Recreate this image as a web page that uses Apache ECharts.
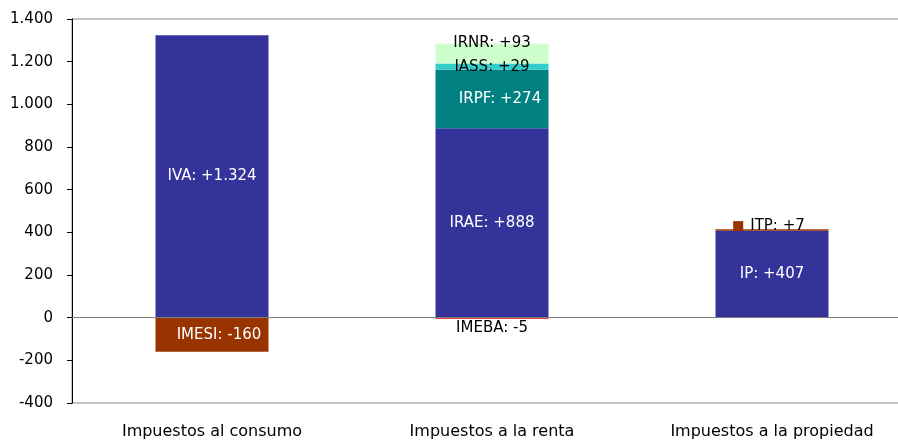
<!DOCTYPE html>
<html>
<head>
<meta charset="utf-8">
<script src="https://cdn.jsdelivr.net/npm/echarts@6/dist/echarts.min.js"></script>
<style>
html,body{margin:0;padding:0;background:#fff;overflow:hidden;}
#c{width:898px;height:443px;}
</style>
</head>
<body>
<div id="c"></div>
<script>
const categories = ['Impuestos al consumo', 'Impuestos a la renta', 'Impuestos a la propiedad'];
const yTicks = { min: -400, max: 1400, interval: 200 };

// Blue base components
const mainNames = ['IVA', 'IRAE', 'IP'];
const mainValues = [1324, 888, 407];
// Brown components
const brownNames = ['IMESI', null, 'ITP'];
const brownValues = [-160, null, 7];
// Red component
const imebaNames = [null, 'IMEBA', null];
const imebaValues = [null, -5, null];
// Teal
const irpfNames = [null, 'IRPF', null];
const irpfValues = [null, 274, null];
// Cyan
const iassNames = [null, 'IASS', null];
const iassValues = [null, 29, null];
// Light green
const irnrNames = [null, 'IRNR', null];
const irnrValues = [null, 93, null];

const FONT = 'DejaVu Sans';

function fmtNum(v) {
  const a = Math.abs(v);
  const s = String(a).replace(/\B(?=(\d{3})+(?!\d))/g, '.');
  return (v < 0 ? '-' : '+') + s;
}
function labelText(names, idx, v) {
  return names[idx] + ': ' + fmtNum(v);
}

function buildData(names, values, labelFor) {
  return values.map((v, i) => {
    if (v === null) return '-';
    return { value: v, label: Object.assign({ formatter: labelText(names, i, v) }, labelFor ? labelFor(i) : {}) };
  });
}

const baseLabel = { show: true, position: 'inside', fontFamily: FONT, fontSize: 15, color: '#fff' };

const chart = echarts.init(document.getElementById('c'));
chart.setOption({
  animation: false,
  backgroundColor: '#fff',
  grid: { left: 72, top: 19, bottom: 40, right: -14, outerBoundsMode: 'none', containLabel: false,
          show: true, borderColor: '#8c8c8c', borderWidth: 1, backgroundColor: 'transparent' },
  xAxis: {
    type: 'category',
    data: categories,
    axisLine: { show: false, onZero: false },
    axisTick: { show: false },
    axisLabel: { margin: 21, fontFamily: FONT, fontSize: 16, color: '#000' }
  },
  yAxis: {
    type: 'value',
    min: yTicks.min, max: yTicks.max, interval: yTicks.interval,
    axisLine: { show: true, lineStyle: { color: '#000', width: 1 } },
    axisTick: { show: true, length: 5, lineStyle: { color: '#000' } },
    splitLine: { show: false },
    axisLabel: {
      margin: 19, fontFamily: FONT, fontSize: 15, color: '#000',
      formatter: v => String(v).replace(/\B(?=(\d{3})+(?!\d))/g, '.')
    }
  },
  series: [
    {
      name: 'base', type: 'bar', stack: 'total', barWidth: 113,
      itemStyle: { color: '#333399' },
      label: baseLabel,
      data: buildData(mainNames, mainValues),
      markLine: {
        silent: true, symbol: 'none', label: { show: false },
        lineStyle: { color: '#808080', type: 'solid', width: 1 },
        data: [{ yAxis: 0 }]
      }
    },
    {
      name: 'brown', type: 'bar', stack: 'total', barWidth: 113,
      itemStyle: { color: '#993300' },
      label: baseLabel,
      data: buildData(brownNames, brownValues, i => i === 2 ? {
        position: 'inside', offset: [-3, -4], color: '#000',
        formatter: '{box|}{t|' + labelText(brownNames, i, brownValues[i]) + '}',
        rich: {
          box: { width: 10, height: 10, backgroundColor: '#993300' },
          t: { color: '#000', fontFamily: FONT, fontSize: 15, padding: [0, 0, 0, 7] }
        }
      } : { offset: [7, 0] })
    },
    {
      name: 'red', type: 'bar', stack: 'total', barWidth: 113,
      itemStyle: { color: '#e00000' },
      label: Object.assign({}, baseLabel, { position: 'bottom', distance: 2, color: '#000' }),
      data: buildData(imebaNames, imebaValues)
    },
    {
      name: 'teal', type: 'bar', stack: 'total', barWidth: 113,
      itemStyle: { color: '#008080' },
      label: Object.assign({}, baseLabel, { offset: [8, 0] }),
      data: buildData(irpfNames, irpfValues)
    },
    {
      name: 'cyan', type: 'bar', stack: 'total', barWidth: 113,
      itemStyle: { color: '#33cccc' },
      label: Object.assign({}, baseLabel, { color: '#000' }),
      data: buildData(iassNames, iassValues)
    },
    {
      name: 'green', type: 'bar', stack: 'total', barWidth: 113,
      itemStyle: { color: '#ccffcc' },
      label: Object.assign({}, baseLabel, { color: '#000', offset: [0, -11] }),
      data: buildData(irnrNames, irnrValues)
    }
  ]
});
</script>
</body>
</html>
